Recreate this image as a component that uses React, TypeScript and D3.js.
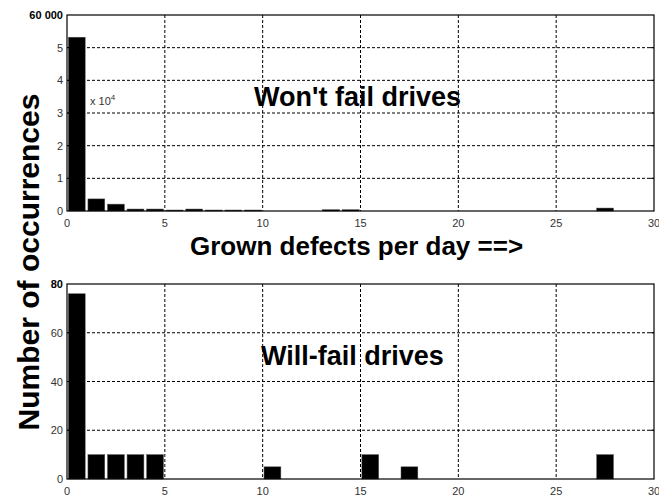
import React from "react";
import * as d3 from "d3";

// Bin start values (defects per day), one bar per unit bin
const BINS = d3.range(0, 30);

// Won't-fail drives: occurrences per bin
const WONT_FAIL = [
  53200, 3700, 2100, 600, 600, 300, 600, 300, 300, 300,
  0, 0, 0, 400, 400, 0, 0, 0, 0, 0,
  0, 0, 0, 0, 0, 0, 0, 900, 0, 0,
];

// Will-fail drives: occurrences per bin
const WILL_FAIL = [
  76, 10, 10, 10, 10, 0, 0, 0, 0, 0,
  5, 0, 0, 0, 0, 10, 0, 5, 0, 0,
  0, 0, 0, 0, 0, 0, 0, 10, 0, 0,
];

const X_TICKS = [0, 5, 10, 15, 20, 25, 30];
const TOP_Y_TICKS = [0, 10000, 20000, 30000, 40000, 50000, 60000];
const TOP_Y_LABELS = ["0", "1", "2", "3", "4", "5", "60 000"];
const BOT_Y_TICKS = [0, 20, 40, 60, 80];
const BOT_Y_LABELS = ["0", "20", "40", "60", "80"];

const W = 659;
const H = 497;
const FONT = "'Liberation Sans', Arial, Helvetica, sans-serif";
const LEFT = 67;
const RIGHT = 654;

type PanelProps = {
  values: number[];
  top: number;
  bottom: number;
  yMax: number;
  yTicks: number[];
  yLabels: string[];
};

function Panel({ values, top, bottom, yMax, yTicks, yLabels }: PanelProps) {
  const x = d3.scaleLinear().domain([0, 30]).range([LEFT, RIGHT]);
  const y = d3.scaleLinear().domain([0, yMax]).range([bottom, top]);
  const barW = 0.86;

  return (
    <g>
      {/* grid */}
      {X_TICKS.slice(1, -1).map((t) => (
        <line key={"gx" + t} x1={x(t)} x2={x(t)} y1={top} y2={bottom}
          stroke="#000" strokeWidth={1} strokeDasharray="3,2" />
      ))}
      {yTicks.slice(1, -1).map((t) => (
        <line key={"gy" + t} x1={LEFT} x2={RIGHT} y1={y(t)} y2={y(t)}
          stroke="#000" strokeWidth={1} strokeDasharray="3,2" />
      ))}

      {/* bars */}
      {BINS.map((b, i) =>
        values[i] > 0 ? (
          <rect key={"b" + b}
            x={x(b + 0.5 - barW / 2)}
            width={x(barW) - x(0)}
            y={y(values[i])}
            height={bottom - y(values[i])}
            fill="#000" stroke="#555" strokeWidth={0.5} />
        ) : null
      )}

      {/* inward ticks */}
      {yTicks.slice(1, -1).map((t) => (
        <g key={"ty" + t}>
          <line x1={LEFT} x2={LEFT + 4} y1={y(t)} y2={y(t)} stroke="#000" />
          <line x1={RIGHT - 4} x2={RIGHT} y1={y(t)} y2={y(t)} stroke="#000" />
        </g>
      ))}

      {/* box */}
      <rect x={LEFT} y={top} width={RIGHT - LEFT} height={bottom - top}
        fill="none" stroke="#000" strokeWidth={1.2} />

      {/* labels */}
      {X_TICKS.map((t) => (
        <text key={"lx" + t} x={x(t)} y={bottom + 16} textAnchor="middle"
          fontSize={11} fill="#333" fontFamily={FONT}>{t}</text>
      ))}
      {yTicks.map((t, i) => (
        <text key={"ly" + t} x={LEFT - 4} y={y(t) + 4} textAnchor="end"
          fontSize={11} fill={i === yTicks.length - 1 ? "#000" : "#333"}
          fontWeight={i === yTicks.length - 1 ? "bold" : "normal"}
          fontFamily={FONT}>{yLabels[i]}</text>
      ))}
    </g>
  );
}

export default function App() {
  return (
    <svg width={W} height={H} viewBox={`0 0 ${W} ${H}`}
      style={{ position: "absolute", left: 0, top: 0, background: "#fff" }}>
      <rect width={W} height={H} fill="#fff" />
      <Panel values={WONT_FAIL} top={15} bottom={211} yMax={60000}
        yTicks={TOP_Y_TICKS} yLabels={TOP_Y_LABELS} />
      <Panel values={WILL_FAIL} top={284} bottom={479} yMax={80}
        yTicks={BOT_Y_TICKS} yLabels={BOT_Y_LABELS} />

      <text x={90} y={105} fontSize={11} fill="#333" fontFamily={FONT}>
        x 10<tspan dy={-5} fontSize={8}>4</tspan>
      </text>

      <text x={254} y={106} fontSize={27} fontWeight="bold" fontFamily={FONT}>
        Won't fail drives
      </text>
      <text x={261} y={365} fontSize={27} fontWeight="bold" fontFamily={FONT}>
        Will-fail drives
      </text>
      <text x={190} y={255} fontSize={26} fontWeight="bold" fontFamily={FONT}>
        Grown defects per day ==&gt;
      </text>
      <text transform="translate(39,262) rotate(-90)" textAnchor="middle"
        fontSize={30} fontWeight="bold" fontFamily={FONT}>
        Number of occurrences
      </text>
    </svg>
  );
}
